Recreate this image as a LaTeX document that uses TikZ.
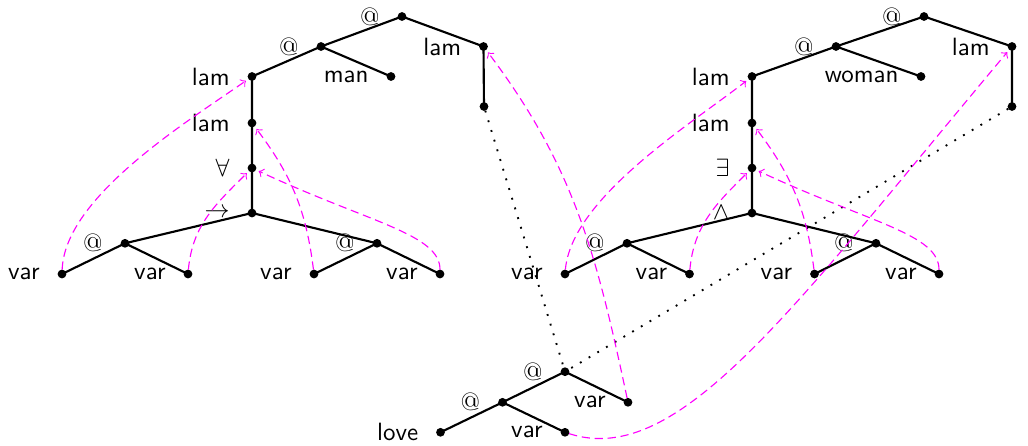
\documentclass[tikz,border=0pt]{standalone}
\begin{document}
\begin{tikzpicture}[x=0.4pt,y=0.4pt,
  dot/.style={circle,fill=black,inner sep=0pt,outer sep=0pt,minimum size=3.5pt},
  every label/.style={inner sep=0pt},
  label distance=7pt,
  wlbl/.style={font=\sffamily},
  edge/.style={line width=0.85pt},
  bind/.style={draw=mag,line width=0.45pt,dash pattern=on 3.3pt off 1.9pt,->,shorten >=1.2pt},
  link/.style={line width=0.75pt,dash pattern=on 0.75pt off 3.3pt},
]
\definecolor{mag}{RGB}{255,0,255}
\useasboundingbox (0,0) rectangle (1028,-446);

% ---------- left tree ----------
\node[dot,label={left:@}] (LA0) at (402,-16.5) {};
\node[dot,label={left:@}] (LA1) at (321,-46.5) {};
\node[dot,label={[wlbl]left:lam}] (LR) at (483.5,-46.5) {};
\node[dot] (LRc) at (484,-106.5) {};
\node[dot,label={[wlbl]left:lam}] (LL1) at (252,-76.5) {};
\node[dot,label={[wlbl]left:man}] (Lman) at (391,-76.5) {};
\node[dot,label={[wlbl]left:lam}] (LL2) at (252,-123) {};
\node[dot,label={left:$\forall$}] (LQ) at (252,-168) {};
\node[dot,label={left:$\rightarrow$}] (LC) at (252,-213) {};
\node[dot,label={left:@}] (LAa) at (125,-243.3) {};
\node[dot,label={left:@}] (LAb) at (377,-243.3) {};
\node[dot,label={[wlbl]left:var}] (Lv1) at (62,-274) {};
\node[dot,label={[wlbl]left:var}] (Lv2) at (188,-274) {};
\node[dot,label={[wlbl]left:var}] (Lv3) at (314,-274) {};
\node[dot,label={[wlbl]left:var}] (Lv4) at (440,-274) {};

% ---------- right tree ----------
\node[dot,label={left:@}] (RA0) at (924,-16.5) {};
\node[dot,label={left:@}] (RA1) at (836,-46.5) {};
\node[dot,label={[wlbl]left:lam}] (RR) at (1012,-46.5) {};
\node[dot] (RRc) at (1012,-106.5) {};
\node[dot,label={[wlbl]left:lam}] (RL1) at (752,-76.5) {};
\node[dot,label={[wlbl]left:woman}] (Rwoman) at (921,-76.5) {};
\node[dot,label={[wlbl]left:lam}] (RL2) at (752,-123) {};
\node[dot,label={left:$\exists$}] (RQ) at (752,-168) {};
\node[dot,label={left:$\wedge$}] (RC) at (752,-213) {};
\node[dot,label={left:@}] (RAa) at (627,-243.3) {};
\node[dot,label={left:@}] (RAb) at (876,-243.3) {};
\node[dot,label={[wlbl]left:var}] (Rv1) at (565,-274) {};
\node[dot,label={[wlbl]left:var}] (Rv2) at (689.5,-274) {};
\node[dot,label={[wlbl]left:var}] (Rv3) at (814.5,-274) {};
\node[dot,label={[wlbl]left:var}] (Rv4) at (939,-274) {};

% ---------- bottom tree ----------
\node[dot,label={left:@}] (BA0) at (565,-371.7) {};
\node[dot,label={left:@}] (BA1) at (502.5,-402.3) {};
\node[dot,label={[wlbl]left:love}] (Blove) at (440.5,-432.3) {};
\node[dot,label={[wlbl]left:var}] (Bv1) at (565,-432.3) {};
\node[dot,label={[wlbl]left:var}] (Bv2) at (628,-402.3) {};

% ---------- edges ----------
\draw[edge] (LA0.center)--(LA1.center) (LA0.center)--(LR.center)
  (LA1.center)--(LL1.center) (LA1.center)--(Lman.center) (LR.center)--(LRc.center)
  (LL1.center)--(LL2.center)--(LQ.center)--(LC.center)
  (LC.center)--(LAa.center) (LC.center)--(LAb.center)
  (LAa.center)--(Lv1.center) (LAa.center)--(Lv2.center)
  (LAb.center)--(Lv3.center) (LAb.center)--(Lv4.center);
\draw[edge] (RA0.center)--(RA1.center) (RA0.center)--(RR.center)
  (RA1.center)--(RL1.center) (RA1.center)--(Rwoman.center) (RR.center)--(RRc.center)
  (RL1.center)--(RL2.center)--(RQ.center)--(RC.center)
  (RC.center)--(RAa.center) (RC.center)--(RAb.center)
  (RAa.center)--(Rv1.center) (RAa.center)--(Rv2.center)
  (RAb.center)--(Rv3.center) (RAb.center)--(Rv4.center);
\draw[edge] (BA0.center)--(BA1.center) (BA0.center)--(Bv2.center)
  (BA1.center)--(Blove.center) (BA1.center)--(Bv1.center);

% ---------- dotted links ----------
\draw[link] (LRc) -- (BA0);
\draw[link] (RRc) -- (BA0);

% ---------- binding arrows ----------
\draw[bind] (Lv1) to[out=88,in=-145,looseness=0.7] (LL1);
\draw[bind] (Lv2) to[out=85,in=-135] (LQ);
\draw[bind] (Lv3) to[out=97,in=-53] (LL2);
\draw[bind] (Lv4) .. controls +(90:40) and +(-25:130) .. (LQ);

\draw[bind] (Rv1) to[out=85,in=-142,looseness=0.7] (RL1);
\draw[bind] (Rv2) to[out=85,in=-135] (RQ);
\draw[bind] (Rv3) to[out=97,in=-53] (RL2);
\draw[bind] (Rv4) .. controls +(90:40) and +(-25:130) .. (RQ);

\draw[bind] (Bv2) to[out=102,in=-53] (LR);
\draw[bind] (Bv1) .. controls +(-18:120) and +(-130:340) .. (RR);
\end{tikzpicture}
\end{document}
